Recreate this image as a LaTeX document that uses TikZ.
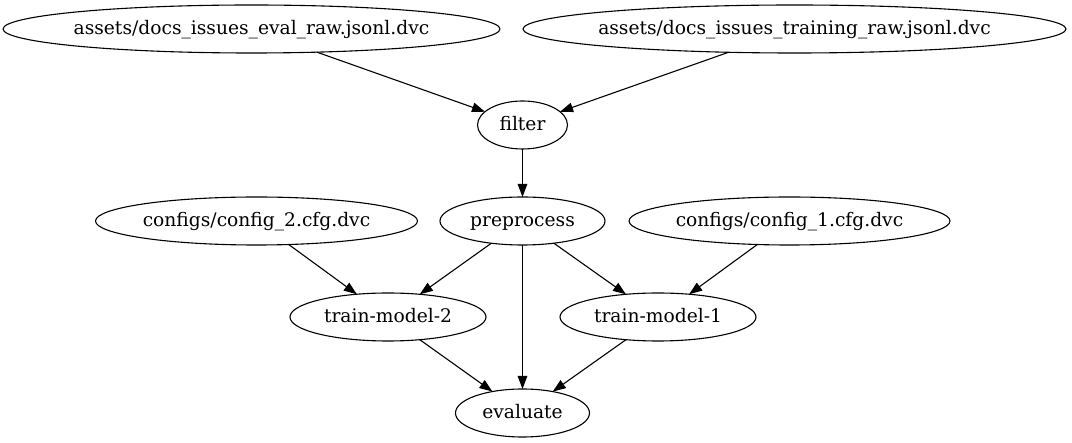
\documentclass[tikz,border=0pt]{standalone}
\usepackage{fontspec}
\setmainfont{DejaVu Serif}
\usetikzlibrary{shapes.geometric,arrows.meta}
\tikzset{
  gnode/.style={draw, ellipse, line width=1.1pt, inner sep=0pt, outer sep=0pt,
    minimum height=48pt, text height=14pt, text depth=3pt,
    font=\fontsize{18.67}{22}\selectfont},
  gedge/.style={line width=1.1pt, -{Triangle[length=13pt,width=9.5pt]}}
}
\newcommand{\lbl}[1]{\makebox[0pt]{#1}}
\begin{document}
\begin{tikzpicture}[x=1pt,y=-1pt]
\useasboundingbox (0,0) rectangle (1072,443);
\node[gnode, minimum width=497pt] (eval) at (251.5,29) {\lbl{assets/docs\_issues\_eval\_raw.jsonl.dvc}};
\node[gnode, minimum width=543pt] (train) at (794.5,29) {\lbl{assets/docs\_issues\_training\_raw.jsonl.dvc}};
\node[gnode, minimum width=90pt] (filter) at (522.5,125) {\lbl{filter}};
\node[gnode, minimum width=165pt] (pre) at (522.5,221) {\lbl{preprocess}};
\node[gnode, minimum width=322pt] (cfgtwo) at (256.5,221) {\lbl{configs/config\_2.cfg.dvc}};
\node[gnode, minimum width=321pt] (cfgone) at (789.5,221) {\lbl{configs/config\_1.cfg.dvc}};
\node[gnode, minimum width=196pt] (tmtwo) at (388,317) {\lbl{train-model-2}};
\node[gnode, minimum width=196pt] (tmone) at (658,317) {\lbl{train-model-1}};
\node[gnode, minimum width=134pt] (evaluate) at (522.5,413) {\lbl{evaluate}};
\draw[gedge] (eval) -- (filter);
\draw[gedge] (train) -- (filter);
\draw[gedge] (filter) -- (pre);
\draw[gedge] (cfgtwo) -- (tmtwo);
\draw[gedge] (pre) -- (tmtwo);
\draw[gedge] (pre) -- (evaluate);
\draw[gedge] (pre) -- (tmone);
\draw[gedge] (cfgone) -- (tmone);
\draw[gedge] (tmtwo) -- (evaluate);
\draw[gedge] (tmone) -- (evaluate);
\end{tikzpicture}
\end{document}
